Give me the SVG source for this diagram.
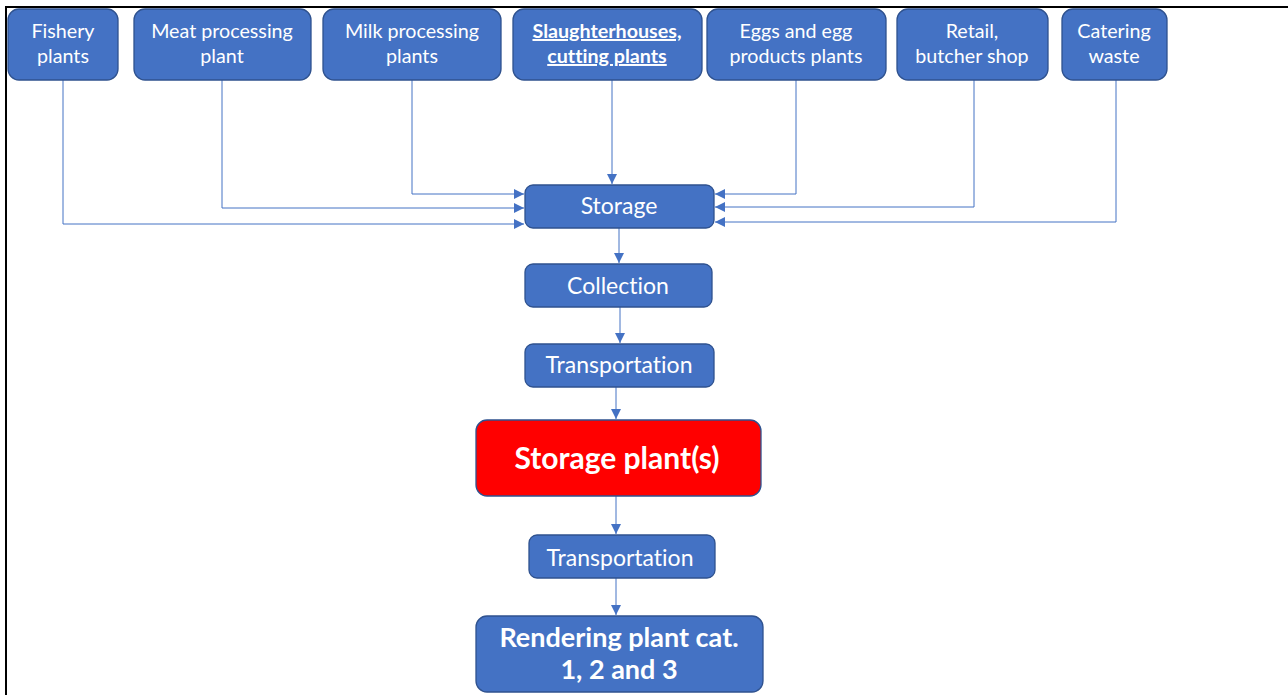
<svg xmlns="http://www.w3.org/2000/svg" width="1288" height="695" viewBox="0 0 1288 695">
  <style>
    .box { fill: #4472C4; stroke: #2F528F; stroke-width: 1.3; }
    .hot { fill: #FF0000; stroke: #2F528F; stroke-width: 1.3; }
    .lbl { fill: #FFFFFF; font-family: Lato, "Open Sans", "Liberation Sans", sans-serif; text-anchor: middle; font-variant-ligatures: none; }
    .sm { font-size: 19.7px; }
    .md { font-size: 23px; }
    .bd { font-weight: bold; }
    .lg { font-size: 30px; font-weight: bold; }
    .xl { font-size: 27px; font-weight: bold; }
    .link { fill: none; stroke: #4472C4; stroke-width: 1; }
  </style>
  <defs>
    <marker id="arr" viewBox="0 0 10 10" refX="10" refY="5" markerWidth="10" markerHeight="10" markerUnits="userSpaceOnUse" orient="auto">
      <path d="M0,0 L10,5 L0,10 Z" fill="#4472C4"/>
    </marker>
  </defs>

  <rect width="1288" height="695" fill="#FFFFFF"/>
  <!-- page frame -->
  <path d="M6,695 V7 H1288" fill="none" stroke="#000000" stroke-width="2"/>

  <g id="connectors">
    <polyline class="link" points="63,80 63,224 524,224" marker-end="url(#arr)"/>
    <polyline class="link" points="222,80 222,208 524,208" marker-end="url(#arr)"/>
    <polyline class="link" points="412,80 412,194 524,194" marker-end="url(#arr)"/>
    <polyline class="link" points="612,80 612,184" marker-end="url(#arr)"/>
    <polyline class="link" points="796,80 796,194 715,194" marker-end="url(#arr)"/>
    <polyline class="link" points="974,80 974,207 715,207" marker-end="url(#arr)"/>
    <polyline class="link" points="1116,80 1116,222 715,222" marker-end="url(#arr)"/>
    <line class="link" x1="619" y1="228" x2="619" y2="263" marker-end="url(#arr)"/>
    <line class="link" x1="620" y1="307" x2="620" y2="343" marker-end="url(#arr)"/>
    <line class="link" x1="616" y1="387" x2="616" y2="419" marker-end="url(#arr)"/>
    <line class="link" x1="616" y1="496" x2="616" y2="534" marker-end="url(#arr)"/>
    <line class="link" x1="616" y1="578" x2="616" y2="615" marker-end="url(#arr)"/>
  </g>

  <g id="fishery">
    <rect class="box" x="8" y="9" width="110" height="71" rx="11"/>
    <text class="lbl sm" x="63" y="38">Fishery</text>
    <text class="lbl sm" x="63" y="63">plants</text>
  </g>
  <g id="meat">
    <rect class="box" x="134" y="9" width="177" height="71" rx="11"/>
    <text class="lbl sm" x="222" y="38">Meat processing</text>
    <text class="lbl sm" x="222" y="63">plant</text>
  </g>
  <g id="milk">
    <rect class="box" x="323" y="9" width="178" height="71" rx="11"/>
    <text class="lbl sm" x="412" y="38">Milk processing</text>
    <text class="lbl sm" x="412" y="63">plants</text>
  </g>
  <g id="slaughter">
    <rect class="box" x="513" y="9" width="189" height="71" rx="11"/>
    <text class="lbl sm bd" x="607" y="38" text-decoration="underline">Slaughterhouses,</text>
    <text class="lbl sm bd" x="607" y="63" text-decoration="underline">cutting plants</text>
  </g>
  <g id="eggs">
    <rect class="box" x="707" y="9" width="179" height="71" rx="11"/>
    <text class="lbl sm" x="796" y="38">Eggs and egg</text>
    <text class="lbl sm" x="796" y="63">products plants</text>
  </g>
  <g id="retail">
    <rect class="box" x="897" y="9" width="151" height="71" rx="11"/>
    <text class="lbl sm" x="972" y="38">Retail,</text>
    <text class="lbl sm" x="972" y="63">butcher shop</text>
  </g>
  <g id="catering">
    <rect class="box" x="1062" y="9" width="105" height="71" rx="11"/>
    <text class="lbl sm" x="1114" y="38">Catering</text>
    <text class="lbl sm" x="1114" y="63">waste</text>
  </g>

  <g id="storage">
    <rect class="box" x="525" y="185" width="189" height="43" rx="8"/>
    <text class="lbl md" x="619" y="214">Storage</text>
  </g>
  <g id="collection">
    <rect class="box" x="525" y="264" width="187" height="43" rx="8"/>
    <text class="lbl md" x="618" y="294">Collection</text>
  </g>
  <g id="transport1">
    <rect class="box" x="525" y="344" width="189" height="43" rx="8"/>
    <text class="lbl md" x="619" y="373">Transportation</text>
  </g>
  <g id="storage-plants">
    <rect class="hot" x="476" y="420" width="285" height="76" rx="11"/>
    <text class="lbl lg" x="617" y="469">Storage plant(s)</text>
  </g>
  <g id="transport2">
    <rect class="box" x="529" y="535" width="186" height="43" rx="8"/>
    <text class="lbl md" x="620" y="566">Transportation</text>
  </g>
  <g id="rendering">
    <rect class="box" x="476" y="616" width="287" height="76" rx="11"/>
    <text class="lbl xl" x="619" y="647">Rendering plant cat.</text>
    <text class="lbl xl" x="619" y="679">1, 2 and 3</text>
  </g>
</svg>
